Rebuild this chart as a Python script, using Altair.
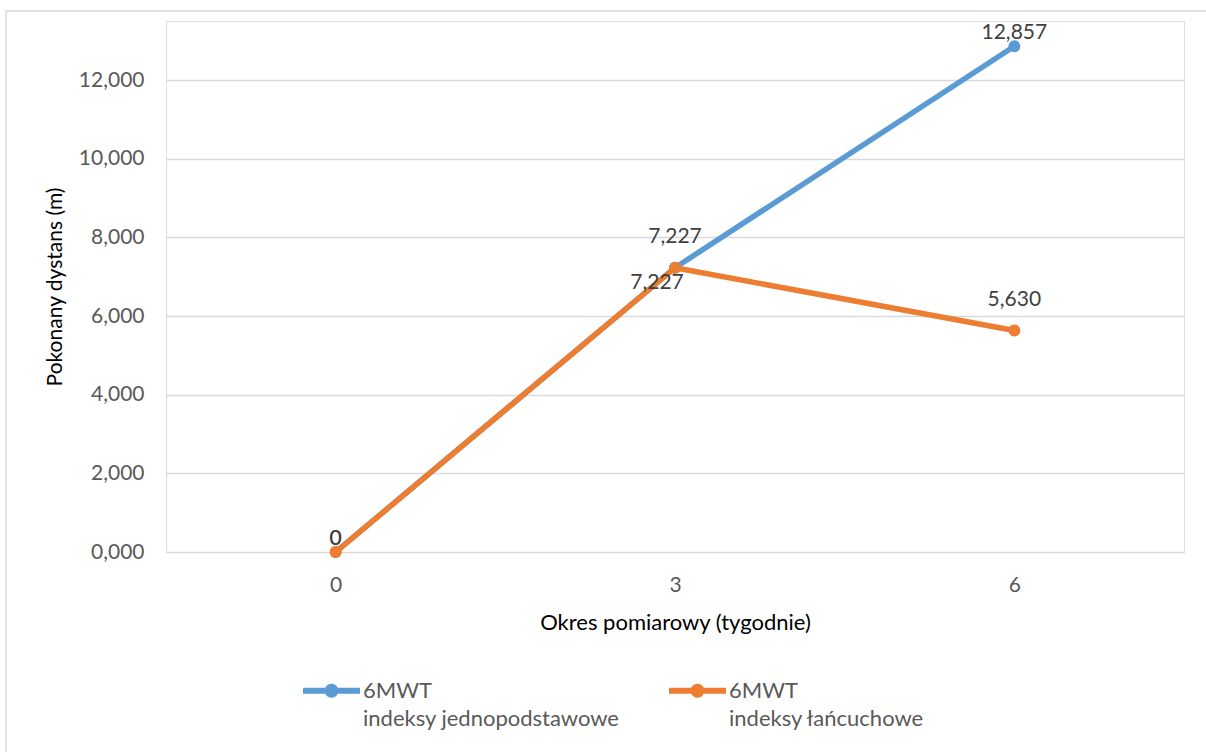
import altair as alt
import pandas as pd

# Measurement weeks and the two 6MWT index series
weeks = ["0", "3", "6"]
series_names = ["indeksy jednopodstawowe", "indeksy łańcuchowe"]
fixed_base_index = [0.0, 7.227, 12.857]
chain_index = [0.0, 7.227, 5.630]
series_colors = ["#5B9BD5", "#ED7D31"]
y_tick_values = [0, 2, 4, 6, 8, 10, 12]

rows = []
for name, values in zip(series_names, [fixed_base_index, chain_index]):
    for week, value in zip(weeks, values):
        rows.append({"tydzien": week, "wartosc": value, "seria": name})
df = pd.DataFrame(rows)

FONT = "Lato"
GRID = "#D9D9D9"

x_enc = alt.X(
    "tydzien:N",
    sort=weeks,
    scale=alt.Scale(type="point", padding=0.5),
    axis=alt.Axis(
        title="Okres pomiarowy (tygodnie)",
        labelAngle=0,
        ticks=False,
        tickSize=0,
        domain=False,
        grid=False,
        labelPadding=22,
        titlePadding=17,
        labelFontSize=21,
        labelColor="#595959",
        titleFontSize=22,
        titleColor="#000000",
        titleFontWeight="normal",
    ),
)

y_enc = alt.Y(
    "wartosc:Q",
    scale=alt.Scale(domain=[0, 13.5], nice=False),
    axis=alt.Axis(
        title="Pokonany dystans (m)",
        values=y_tick_values,
        labelExpr="replace(format(datum.value, '.3f'), '.', ',')",
        ticks=False,
        tickSize=0,
        domain=False,
        grid=True,
        gridColor=GRID,
        gridWidth=1.5,
        labelPadding=22,
        titlePadding=13,
        labelFontSize=21,
        labelColor="#595959",
        titleFontSize=21,
        titleColor="#000000",
        titleFontWeight="normal",
    ),
)

# Legend symbol: a short line with a round marker in the middle
legend_symbol = (
    "M-1,0H1"
    "M0.14,0A0.14,0.14 0 1,1 -0.14,0A0.14,0.14 0 1,1 0.14,0"
    "M0.053,0A0.053,0.053 0 1,1 -0.053,0A0.053,0.053 0 1,1 0.053,0"
)

color_enc = alt.Color(
    "seria:N",
    scale=alt.Scale(domain=series_names, range=series_colors),
    legend=alt.Legend(
        title=None,
        orient="none",
        legendX=134,
        legendY=638,
        direction="horizontal",
        columns=2,
        columnPadding=37,
        padding=0,
        symbolType=legend_symbol,
        symbolSize=3249,
        symbolStrokeWidth=6,
        labelOffset=0,
        labelFontSize=22,
        labelColor="#595959",
        labelLimit=0,
        labelBaseline="middle",
        labelExpr="['6MWT', datum.label]",
    ),
)

label_text = "datum.wartosc == 0 ? '0' : replace(format(datum.wartosc, '.3f'), '.', ',')"

base = alt.Chart(df).encode(x=x_enc, y=y_enc)

frame = alt.Chart(alt.Data(values=[{}])).mark_rect(
    fill=None, stroke=GRID, strokeWidth=1.5
).encode(
    x=alt.value(-160), x2=alt.value(1046),
    y=alt.value(-10), y2=alt.value(740),
)

layers = [frame]
for name in series_names:
    one = base.transform_filter(alt.datum.seria == name)
    layers.append(
        one.mark_line(strokeWidth=5.5, strokeCap="round", strokeJoin="round").encode(color=color_enc)
    )
    layers.append(
        one.mark_point(filled=True, size=141, opacity=1, shape="circle").encode(
            color=alt.Color("seria:N", scale=alt.Scale(domain=series_names, range=series_colors), legend=None)
        )
    )

text_base = base.transform_calculate(etykieta=label_text)
text_style = dict(fontSize=21, color="#404040", baseline="middle", align="center")

near = text_base.transform_filter(
    (alt.datum.tydzien == "0") | ((alt.datum.seria == series_names[0]) & (alt.datum.tydzien == "6"))
).mark_text(dy=-13, **text_style).encode(text="etykieta:N")

far = text_base.transform_filter(
    ((alt.datum.seria == series_names[0]) & (alt.datum.tydzien == "3"))
    | ((alt.datum.seria == series_names[1]) & (alt.datum.tydzien == "6"))
).mark_text(dy=-31, **text_style).encode(text="etykieta:N")

below = text_base.transform_filter(
    (alt.datum.seria == series_names[1]) & (alt.datum.tydzien == "3")
).mark_text(dy=15, dx=-18, **text_style).encode(text="etykieta:N")

layers += [near, far, below]

chart = (
    alt.layer(*layers)
    .properties(
        width=1018,
        height=531,
        autosize=alt.AutoSizeParams(type="none"),
        padding={"left": 166, "top": 21, "right": 22, "bottom": 200},
        background="#FFFFFF",
    )
    .configure_view(stroke=None)
    .configure(font=FONT, style={"guide-label": {"lineHeight": 28}})
)

chart.save("out.html", embed_options={"renderer": "svg", "actions": False})
